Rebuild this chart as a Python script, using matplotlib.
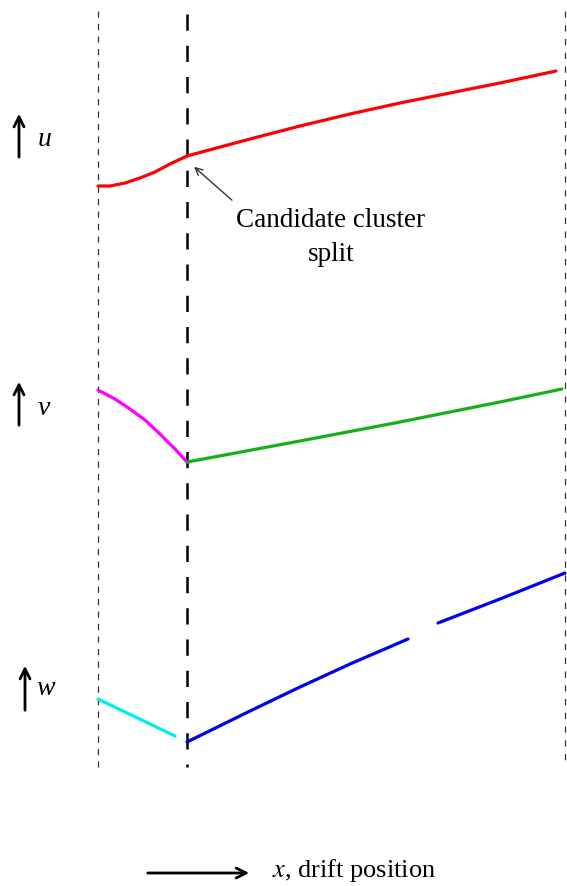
import matplotlib
matplotlib.use("Agg")
import matplotlib.pyplot as plt

plt.rcParams["mathtext.fontset"] = "stix"

# Figure laid out in pixel-like units (x to the right, y downward)
W, H = 567, 887

# Wire positions
x_left, x_split, x_right = 98, 187, 565
y_top, y_bottom = 12, 768

# u view: cluster before and after the candidate split
u_before_x = [98, 110, 125, 140, 155, 170, 187]
u_before_y = [187, 187, 184, 179, 173, 165, 157]
u_after_x = [187, 250, 300, 350, 400, 450, 500, 556]
u_after_y = [157, 140, 127, 115, 104, 94, 84, 72]

# v view
v_before_x = [98, 115, 130, 145, 160, 175, 187]
v_before_y = [391, 400, 410, 421, 435, 450, 463]
v_after_x = [187, 300, 400, 500, 562]
v_after_y = [463, 442, 423, 403, 390]

# w view (with a gap in the second segment)
w_before_x = [98, 175]
w_before_y = [700, 737]
w_after1_x = [187, 250, 300, 350, 408]
w_after1_y = [743, 712, 688, 665, 640]
w_after2_x = [438, 500, 565]
w_after2_y = [624, 600, 574]

fig = plt.figure(figsize=(W / 100, H / 100), dpi=100)
ax = fig.add_axes([0, 0, 1, 1])
ax.set_xlim(0, W)
ax.set_ylim(H, 0)
ax.axis("off")

serif = ["Liberation Serif", "DejaVu Serif"]

# Boundary lines
ax.plot([x_left, x_left], [y_top, y_bottom], color="#333333", lw=0.9,
        dashes=(5, 5))
ax.plot([x_right, x_right], [y_top, y_bottom], color="#333333", lw=0.9,
        dashes=(5, 6))
ax.plot([x_split, x_split], [15, y_bottom], color="black", lw=1.8,
        dashes=(6.5, 6.0))

lw = 2.3
ax.plot(u_before_x, u_before_y, color="#ff0000", lw=lw, solid_capstyle="round")
ax.plot(u_after_x, u_after_y, color="#ff0000", lw=lw, solid_capstyle="round")
ax.plot(v_before_x, v_before_y, color="#ff00ff", lw=lw, solid_capstyle="round")
ax.plot(v_after_x, v_after_y, color="#15b015", lw=lw, solid_capstyle="round")
ax.plot(w_before_x, w_before_y, color="#00eeee", lw=lw, solid_capstyle="round")
ax.plot(w_after1_x, w_after1_y, color="#0000f0", lw=lw, solid_capstyle="round")
ax.plot(w_after2_x, w_after2_y, color="#0000f0", lw=lw, solid_capstyle="round")

# Annotation of the split point
ax.annotate("", xy=(192, 166), xytext=(234, 203),
            arrowprops=dict(arrowstyle="->", color="#333333", lw=1.0,
                            mutation_scale=13))
ax.text(331, 221, "Candidate cluster", ha="center", va="center",
        fontsize=19.5, family=serif)
ax.text(331, 255, "split", ha="center", va="center", fontsize=19.5,
        family=serif)

# View axis labels
arrow_kw = dict(arrowstyle="->", color="black", lw=2.0, mutation_scale=18)
for xa, y0, y1, label, lx, ly in [(19, 161, 112, "u", 38, 139),
                                  (19, 429, 380, "v", 38, 409),
                                  (25, 714, 664, "w", 36, 689)]:
    ax.annotate("", xy=(xa, y1), xytext=(xa, y0), arrowprops=arrow_kw)
    ax.text(lx, ly, label, ha="left", va="center", fontsize=20,
            style="italic", family=serif)

# Drift direction
ax.annotate("", xy=(252, 874), xytext=(145, 874),
            arrowprops=dict(arrowstyle="->", color="black", lw=2.0,
                            mutation_scale=18))
ax.text(272, 871, "$x$, drift position", ha="left", va="center",
        fontsize=19, family=serif)

fig.savefig("out.png", dpi=100)
